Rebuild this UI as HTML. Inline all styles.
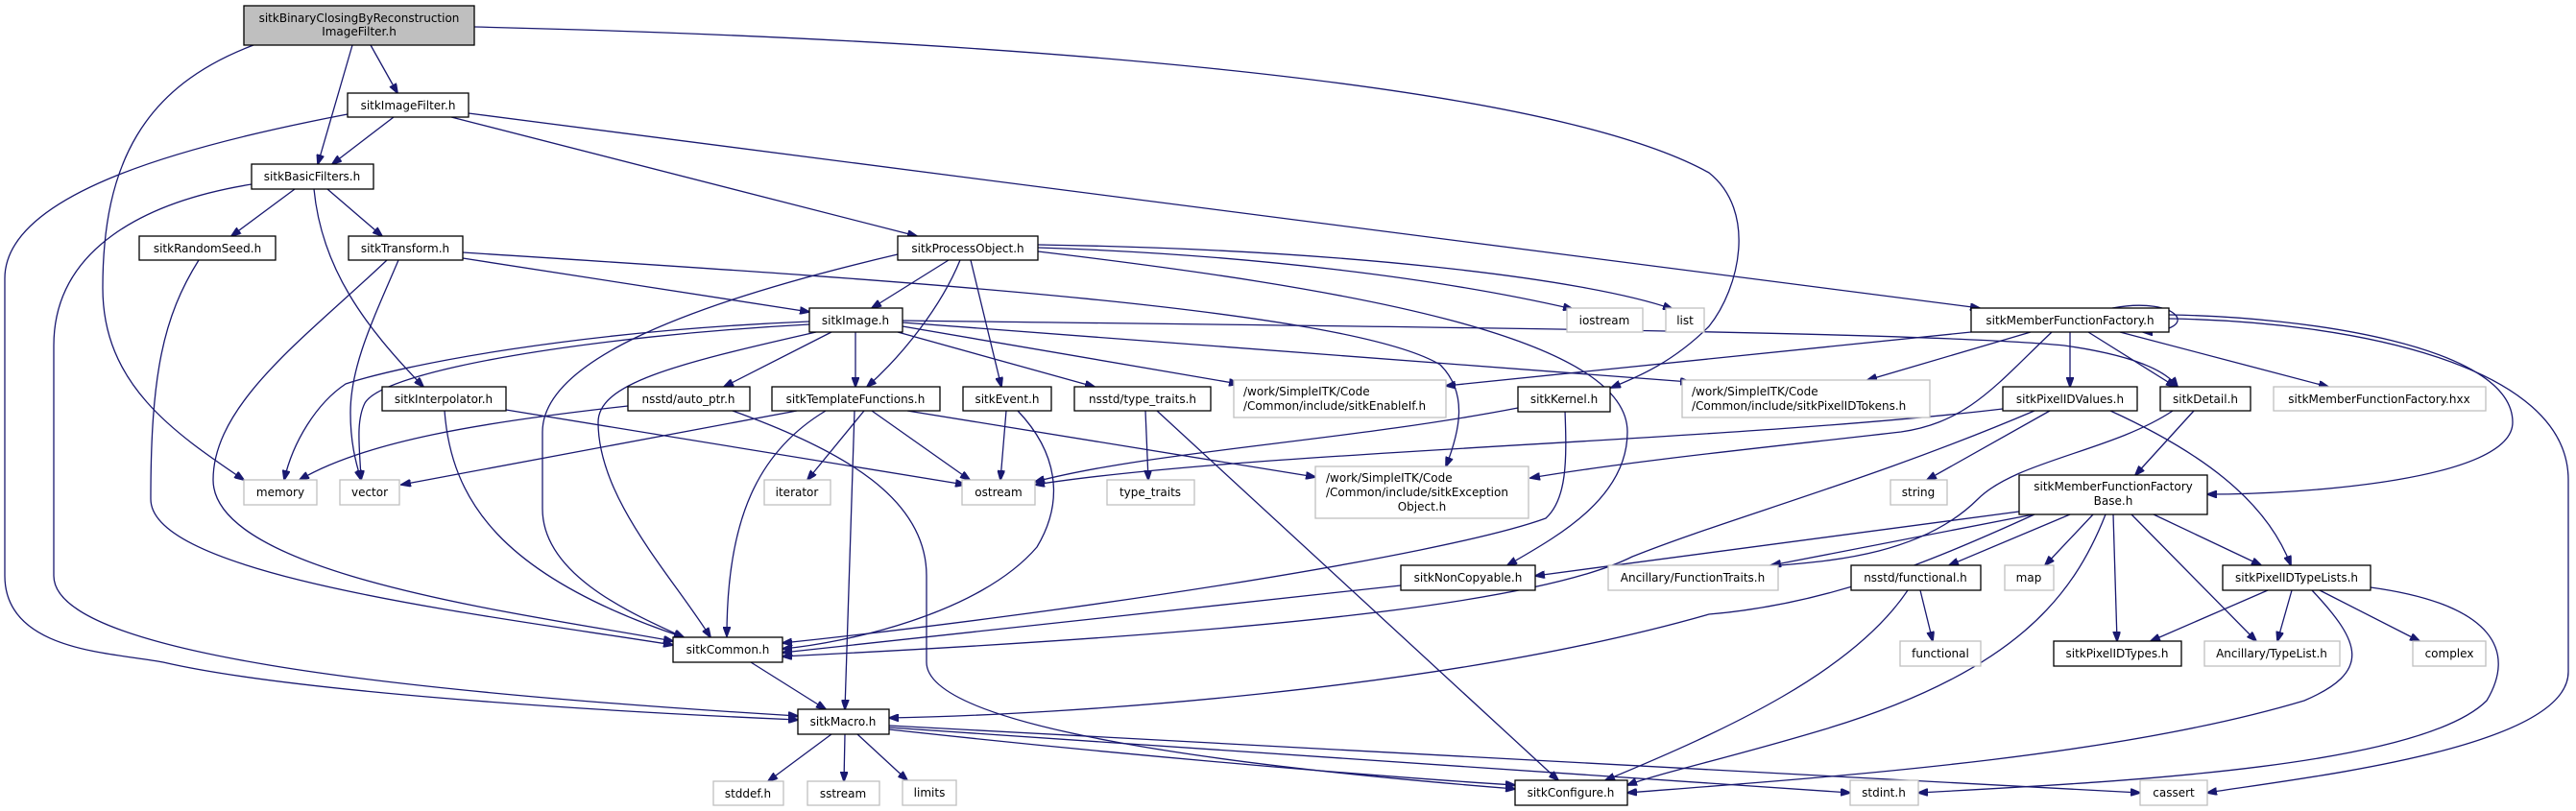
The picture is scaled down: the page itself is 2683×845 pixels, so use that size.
<!DOCTYPE html>
<html><head><meta charset="utf-8"><style>
html,body{margin:0;padding:0;background:#fff;}
svg{display:block}
text{font-family:"DejaVu Sans","Liberation Sans",sans-serif;font-size:12px;fill:#000}
.e{fill:none;stroke:#191970;stroke-width:1.3}
.n{fill:#fff;stroke:#000;stroke-width:1.3}
.g{fill:#fff;stroke:#bfbfbf;stroke-width:1.3}
</style></head><body>
<svg width="2683" height="845" viewBox="0 0 2683 845" xmlns="http://www.w3.org/2000/svg">
<defs><marker id="a" markerWidth="11" markerHeight="8" refX="10" refY="4" orient="auto" markerUnits="userSpaceOnUse"><path d="M0,0 L11,4 L0,8 z" fill="#191970" stroke="#191970"/></marker></defs>
<g marker-end="url(#a)">
<path class="e" d="M264,47 C150,90 107,170 107,300 C107,400 180,450 254,500"/>
<path class="e" d="M367,47 L331,171"/>
<path class="e" d="M386,47 L414,97"/>
<path class="e" d="M494,28 C1000,40 1600,80 1780,180 C1830,220 1812,300 1780,340 C1740,380 1700,395 1678,404"/>
<path class="e" d="M410,122 L346,171"/>
<path class="e" d="M362,119 C200,150 5,200 5,290 L5,600 C5,680 120,680 170,690 C300,720 600,740 831,750"/>
<path class="e" d="M470,122 L955,246"/>
<path class="e" d="M488,118 L2062,321"/>
<path class="e" d="M307,197 L241,246"/>
<path class="e" d="M341,197 L398,246"/>
<path class="e" d="M327,197 C335,280 380,340 441,403"/>
<path class="e" d="M262,192 C150,210 56,260 56,360 L56,600 C56,680 400,720 831,746"/>
<path class="e" d="M207,271 C170,330 157,390 157,520 C157,600 500,640 701,672"/>
<path class="e" d="M403,271 C320,350 222,420 222,500 C222,600 550,640 701,668"/>
<path class="e" d="M415,271 C390,330 365,380 365,430 C365,460 370,480 376,500"/>
<path class="e" d="M482,269 L843,325"/>
<path class="e" d="M482,263 C900,290 1400,320 1500,380 C1530,410 1520,450 1506,486"/>
<path class="e" d="M988,271 L908,321"/>
<path class="e" d="M1000,271 C980,320 940,370 903,403"/>
<path class="e" d="M1011,271 L1043,403"/>
<path class="e" d="M935,265 C700,320 565,380 565,450 L565,530 C565,600 660,640 712,664"/>
<path class="e" d="M1081,258 C1300,265 1500,290 1638,322"/>
<path class="e" d="M1081,255 C1400,260 1650,290 1742,322"/>
<path class="e" d="M1081,262 C1400,300 1695,350 1695,450 C1695,520 1620,560 1570,589"/>
<path class="e" d="M891,346 L891,403"/>
<path class="e" d="M866,346 L754,403"/>
<path class="e" d="M935,346 L1140,403"/>
<path class="e" d="M940,340 L1290,400"/>
<path class="e" d="M940,336 L1760,398"/>
<path class="e" d="M940,334 C1400,340 2000,345 2150,360 C2220,370 2255,385 2268,403"/>
<path class="e" d="M843,335 C600,345 420,380 360,400 C330,420 305,460 296,500"/>
<path class="e" d="M843,338 C620,350 400,385 380,420 C370,440 375,470 376,500"/>
<path class="e" d="M850,346 C700,380 623,400 623,440 C623,520 700,600 740,664"/>
<path class="e" d="M463,428 C470,520 520,600 712,664"/>
<path class="e" d="M527,427 L1005,505"/>
<path class="e" d="M654,423 C500,440 380,460 312,500"/>
<path class="e" d="M763,428 C880,470 965,520 965,600 L965,690 C965,760 1300,800 1578,822"/>
<path class="e" d="M830,428 L418,505"/>
<path class="e" d="M900,428 L841,500"/>
<path class="e" d="M908,428 L1010,500"/>
<path class="e" d="M860,428 C790,470 757,540 757,663"/>
<path class="e" d="M890,428 L880,739"/>
<path class="e" d="M945,428 L1370,497"/>
<path class="e" d="M1048,428 L1042,500"/>
<path class="e" d="M1060,428 C1100,470 1110,520 1080,570 C1020,640 880,670 815,676"/>
<path class="e" d="M1193,428 L1196,500"/>
<path class="e" d="M1205,428 L1623,813"/>
<path class="e" d="M1581,425 C1400,460 1200,470 1078,502"/>
<path class="e" d="M1630,428 C1632,480 1632,520 1610,540 C1500,580 1100,640 815,670"/>
<path class="e" d="M1459,610 L815,680"/>
<path class="e" d="M2200,321 C2270,308 2295,345 2232,346"/>
<path class="e" d="M2156,346 L2156,403"/>
<path class="e" d="M2175,346 L2266,403"/>
<path class="e" d="M2208,346 L2425,403"/>
<path class="e" d="M2115,346 L1945,396"/>
<path class="e" d="M2053,346 L1506,402"/>
<path class="e" d="M2137,346 C2080,400 2050,440 1980,450 C1850,465 1700,480 1594,498"/>
<path class="e" d="M2259,328 C2400,330 2617,360 2617,440 C2617,500 2400,515 2299,515"/>
<path class="e" d="M2259,332 C2450,335 2675,380 2675,500 L2675,700 C2675,780 2400,810 2299,826"/>
<path class="e" d="M2135,428 L2007,500"/>
<path class="e" d="M2198,428 C2290,470 2360,520 2386,589"/>
<path class="e" d="M2086,426 C1800,460 1300,470 1078,505"/>
<path class="e" d="M2119,428 C1950,500 1800,540 1700,580 C1600,630 1300,660 815,684"/>
<path class="e" d="M2263,428 C2200,470 2100,480 2060,520 C2000,580 1900,585 1842,590"/>
<path class="e" d="M2285,428 L2224,495"/>
<path class="e" d="M2118,536 L1845,589"/>
<path class="e" d="M2103,533 L1599,600"/>
<path class="e" d="M2119,536 C2000,590 1900,630 1780,640 C1500,720 1100,745 926,748"/>
<path class="e" d="M2156,536 L2030,589"/>
<path class="e" d="M2180,536 L2130,589"/>
<path class="e" d="M2193,536 C2160,620 2100,700 1900,760 C1800,790 1730,805 1695,818"/>
<path class="e" d="M2201,536 L2205,668"/>
<path class="e" d="M2220,536 L2350,668"/>
<path class="e" d="M2243,536 L2355,589"/>
<path class="e" d="M2000,615 L2013,668"/>
<path class="e" d="M1987,615 C1930,700 1800,760 1672,813"/>
<path class="e" d="M2362,615 L2240,668"/>
<path class="e" d="M2387,615 L2372,668"/>
<path class="e" d="M2416,615 L2520,668"/>
<path class="e" d="M2408,615 C2460,670 2470,700 2400,730 C2200,790 1900,810 1695,826"/>
<path class="e" d="M2469,612 C2600,630 2620,680 2590,730 C2520,800 2200,815 1998,826"/>
<path class="e" d="M782,690 L860,739"/>
<path class="e" d="M866,765 L800,814"/>
<path class="e" d="M880,765 L879,814"/>
<path class="e" d="M893,765 L945,813"/>
<path class="e" d="M926,760 C1200,790 1450,810 1578,818"/>
<path class="e" d="M926,758 L1927,826"/>
<path class="e" d="M926,756 L2229,826"/>
</g>
<!-- nodes -->
<rect x="254" y="6" width="240" height="41" fill="#bfbfbf" stroke="#000" stroke-width="1.3"/>
<text x="374" y="23" text-anchor="middle">sitkBinaryClosingByReconstruction</text>
<text x="374" y="37" text-anchor="middle">ImageFilter.h</text>
<rect class="n" x="362" y="97" width="126" height="25"/><text x="425" y="114" text-anchor="middle">sitkImageFilter.h</text>
<rect class="n" x="262" y="171" width="127" height="26"/><text x="325" y="188" text-anchor="middle">sitkBasicFilters.h</text>
<rect class="n" x="145" y="246" width="142" height="25"/><text x="216" y="263" text-anchor="middle">sitkRandomSeed.h</text>
<rect class="n" x="363" y="246" width="119" height="25"/><text x="422" y="263" text-anchor="middle">sitkTransform.h</text>
<rect class="n" x="935" y="246" width="146" height="25"/><text x="1008" y="263" text-anchor="middle">sitkProcessObject.h</text>
<rect class="n" x="843" y="321" width="97" height="25"/><text x="891" y="338" text-anchor="middle">sitkImage.h</text>
<rect class="g" x="1632" y="321" width="79" height="25"/><text x="1671" y="338" text-anchor="middle">iostream</text>
<rect class="g" x="1735" y="321" width="40" height="25"/><text x="1755" y="338" text-anchor="middle">list</text>
<rect class="n" x="2053" y="321" width="206" height="25"/><text x="2156" y="338" text-anchor="middle">sitkMemberFunctionFactory.h</text>
<rect class="n" x="398" y="403" width="129" height="25"/><text x="462" y="420" text-anchor="middle">sitkInterpolator.h</text>
<rect class="n" x="654" y="403" width="127" height="25"/><text x="717" y="420" text-anchor="middle">nsstd/auto_ptr.h</text>
<rect class="n" x="804" y="403" width="175" height="25"/><text x="891" y="420" text-anchor="middle">sitkTemplateFunctions.h</text>
<rect class="n" x="1003" y="403" width="92" height="25"/><text x="1049" y="420" text-anchor="middle">sitkEvent.h</text>
<rect class="n" x="1119" y="403" width="142" height="25"/><text x="1190" y="420" text-anchor="middle">nsstd/type_traits.h</text>
<rect class="g" x="1285" y="396" width="221" height="39"/>
<text x="1295" y="412">/work/SimpleITK/Code</text><text x="1295" y="427">/Common/include/sitkEnableIf.h</text>
<rect class="n" x="1581" y="403" width="96" height="26"/><text x="1629" y="420" text-anchor="middle">sitkKernel.h</text>
<rect class="g" x="1752" y="396" width="258" height="39"/>
<text x="1762" y="412">/work/SimpleITK/Code</text><text x="1762" y="427">/Common/include/sitkPixelIDTokens.h</text>
<rect class="n" x="2086" y="403" width="140" height="25"/><text x="2156" y="420" text-anchor="middle">sitkPixelIDValues.h</text>
<rect class="n" x="2250" y="403" width="94" height="25"/><text x="2297" y="420" text-anchor="middle">sitkDetail.h</text>
<rect class="g" x="2368" y="403" width="221" height="25"/><text x="2478" y="420" text-anchor="middle">sitkMemberFunctionFactory.hxx</text>
<rect class="g" x="254" y="500" width="76" height="26"/><text x="292" y="517" text-anchor="middle">memory</text>
<rect class="g" x="354" y="500" width="62" height="26"/><text x="385" y="517" text-anchor="middle">vector</text>
<rect class="g" x="796" y="500" width="69" height="26"/><text x="830" y="517" text-anchor="middle">iterator</text>
<rect class="g" x="1002" y="500" width="76" height="26"/><text x="1040" y="517" text-anchor="middle">ostream</text>
<rect class="g" x="1153" y="500" width="91" height="26"/><text x="1198" y="517" text-anchor="middle">type_traits</text>
<rect class="g" x="1370" y="486" width="222" height="54"/>
<text x="1381" y="502">/work/SimpleITK/Code</text><text x="1381" y="517">/Common/include/sitkException</text><text x="1481" y="532" text-anchor="middle">Object.h</text>
<rect class="g" x="1969" y="500" width="59" height="26"/><text x="1998" y="517" text-anchor="middle">string</text>
<rect class="n" x="2103" y="495" width="196" height="41"/>
<text x="2201" y="511" text-anchor="middle">sitkMemberFunctionFactory</text><text x="2201" y="526" text-anchor="middle">Base.h</text>
<rect class="n" x="1459" y="589" width="140" height="26"/><text x="1529" y="606" text-anchor="middle">sitkNonCopyable.h</text>
<rect class="g" x="1675" y="589" width="177" height="26"/><text x="1763" y="606" text-anchor="middle">Ancillary/FunctionTraits.h</text>
<rect class="n" x="1928" y="589" width="135" height="26"/><text x="1995" y="606" text-anchor="middle">nsstd/functional.h</text>
<rect class="g" x="2088" y="589" width="51" height="26"/><text x="2113" y="606" text-anchor="middle">map</text>
<rect class="n" x="2315" y="589" width="154" height="26"/><text x="2392" y="606" text-anchor="middle">sitkPixelIDTypeLists.h</text>
<rect class="n" x="701" y="664" width="114" height="26"/><text x="758" y="681" text-anchor="middle">sitkCommon.h</text>
<rect class="g" x="1979" y="668" width="84" height="26"/><text x="2021" y="685" text-anchor="middle">functional</text>
<rect class="n" x="2139" y="668" width="133" height="26"/><text x="2205" y="685" text-anchor="middle">sitkPixelIDTypes.h</text>
<rect class="g" x="2296" y="668" width="141" height="26"/><text x="2366" y="685" text-anchor="middle">Ancillary/TypeList.h</text>
<rect class="g" x="2513" y="668" width="76" height="26"/><text x="2551" y="685" text-anchor="middle">complex</text>
<rect class="n" x="831" y="739" width="95" height="26"/><text x="878" y="756" text-anchor="middle">sitkMacro.h</text>
<rect class="g" x="743" y="814" width="73" height="25"/><text x="779" y="831" text-anchor="middle">stddef.h</text>
<rect class="g" x="841" y="814" width="75" height="25"/><text x="878" y="831" text-anchor="middle">sstream</text>
<rect class="g" x="940" y="813" width="56" height="26"/><text x="968" y="830" text-anchor="middle">limits</text>
<rect class="n" x="1578" y="813" width="117" height="26"/><text x="1636" y="830" text-anchor="middle">sitkConfigure.h</text>
<rect class="g" x="1927" y="813" width="71" height="26"/><text x="1962" y="830" text-anchor="middle">stdint.h</text>
<rect class="g" x="2229" y="813" width="70" height="26"/><text x="2264" y="830" text-anchor="middle">cassert</text>
</svg>
</body></html>
